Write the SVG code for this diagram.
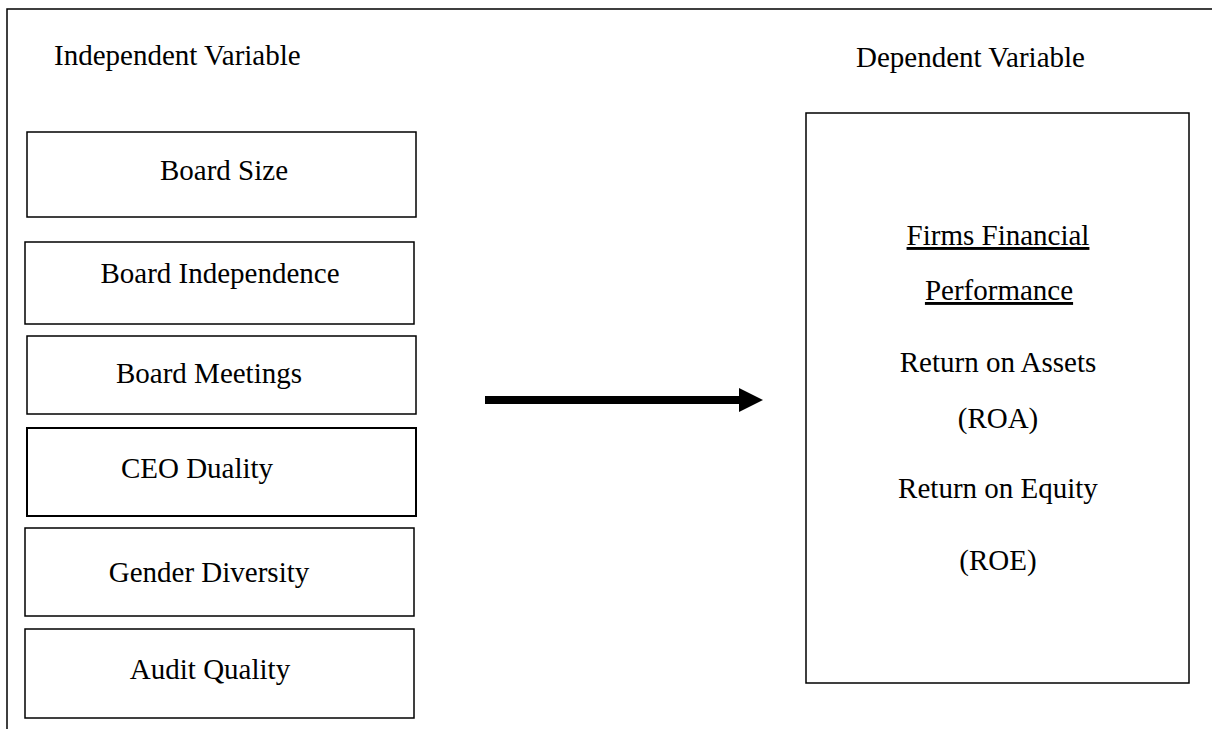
<svg xmlns="http://www.w3.org/2000/svg" width="1212" height="729" viewBox="0 0 1212 729">
<style>
  .box { fill: #fff; stroke: #000; stroke-width: 1.5; }
  .mid { text-anchor: middle; }
  .u { text-decoration: underline; }
</style>
<defs>
  <marker id="arrowhead" markerUnits="userSpaceOnUse" markerWidth="24" markerHeight="24" refX="0" refY="12" orient="auto">
    <polygon points="0,0 24,12 0,24" fill="#000"/>
  </marker>
</defs>
<rect width="1212" height="729" fill="#fff"/>
<g id="frame">
  <path d="M7,729 V9 H1212" fill="none" stroke="#000" stroke-width="1.5"/>
</g>
<g id="label-independent">
  <text x="54" y="65" font-family="Liberation Serif" font-size="29">Independent Variable</text>
</g>
<g id="label-dependent">
  <text x="856" y="67" font-family="Liberation Serif" font-size="29">Dependent Variable</text>
</g>
<g id="node-board-size">
  <rect class="box" x="27" y="132" width="389" height="85"/>
  <text class="mid" x="224" y="180" font-family="Liberation Serif" font-size="29">Board Size</text>
</g>
<g id="node-board-independence">
  <rect class="box" x="25" y="242" width="389" height="82"/>
  <text class="mid" x="220" y="283" font-family="Liberation Serif" font-size="29">Board Independence</text>
</g>
<g id="node-board-meetings">
  <rect class="box" x="27" y="336" width="389" height="78"/>
  <text class="mid" x="209" y="383" font-family="Liberation Serif" font-size="29">Board Meetings</text>
</g>
<g id="node-ceo-duality">
  <rect class="box" x="27" y="428" width="389" height="88" style="stroke-width:2"/>
  <text class="mid" x="197" y="478" font-family="Liberation Serif" font-size="29">CEO Duality</text>
</g>
<g id="node-gender-diversity">
  <rect class="box" x="25" y="528" width="389" height="88"/>
  <text class="mid" x="209" y="582" font-family="Liberation Serif" font-size="29">Gender Diversity</text>
</g>
<g id="node-audit-quality">
  <rect class="box" x="25" y="629" width="389" height="89"/>
  <text class="mid" x="210" y="679" font-family="Liberation Serif" font-size="29">Audit Quality</text>
</g>
<g id="node-performance">
  <rect class="box" x="806" y="113" width="383" height="570"/>
  <text class="mid u" x="998" y="245" font-family="Liberation Serif" font-size="29">Firms Financial</text>
  <text class="mid u" x="999" y="300" font-family="Liberation Serif" font-size="29">Performance</text>
  <text class="mid" x="998" y="372" font-family="Liberation Serif" font-size="29">Return on Assets</text>
  <text class="mid" x="998" y="428" font-family="Liberation Serif" font-size="29">(ROA)</text>
  <text class="mid" x="998" y="498" font-family="Liberation Serif" font-size="29">Return on Equity</text>
  <text class="mid" x="998" y="570" font-family="Liberation Serif" font-size="29">(ROE)</text>
</g>
<g id="connectors">
  <line x1="485" y1="400" x2="739" y2="400" stroke="#000" stroke-width="8" marker-end="url(#arrowhead)"/>
</g>
</svg>
